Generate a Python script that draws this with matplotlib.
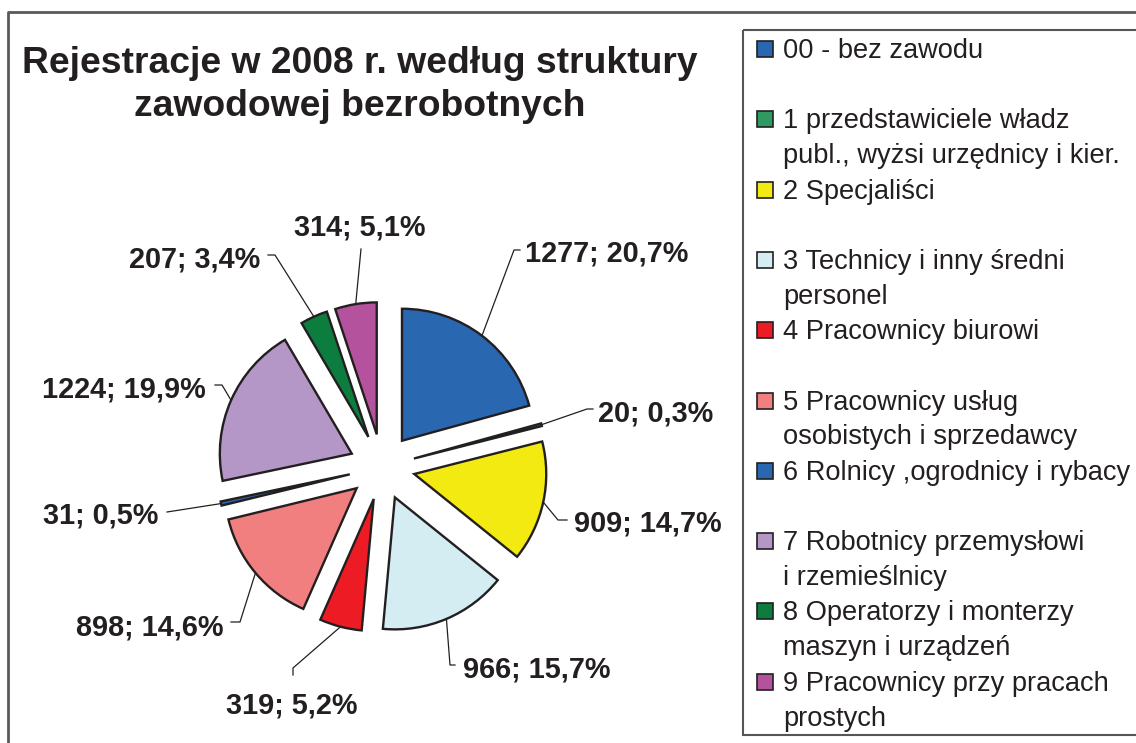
import math
import matplotlib
matplotlib.use('Agg')
import matplotlib.pyplot as plt
from matplotlib.patches import Rectangle

plt.rcParams['font.family'] = ['Liberation Sans', 'DejaVu Sans']

title_lines = ['Rejestracje w 2008 r. według struktury', 'zawodowej bezrobotnych']
categories = [
    '00 - bez zawodu',
    '1 przedstawiciele władz\npubl., wyżsi urzędnicy i kier.',
    '2 Specjaliści',
    '3 Technicy i inny średni\npersonel',
    '4 Pracownicy biurowi',
    '5 Pracownicy usług\nosobistych i sprzedawcy',
    '6 Rolnicy ,ogrodnicy i rybacy',
    '7 Robotnicy przemysłowi\ni rzemieślnicy',
    '8 Operatorzy i monterzy\nmaszyn i urządzeń',
    '9 Pracownicy przy pracach\nprostych',
]
counts = [1277, 20, 909, 966, 319, 898, 31, 1224, 207, 314]
colors = ['#2a67b1', '#2e9a62', '#f2ea10', '#d4edf3', '#ed1c24',
          '#f17f7f', '#2a67b1', '#b497c6', '#0c7d3e', '#b5529e']

# label placement in pixels (y down): text x, text centre y, align, leader bend points
label_layout = [
    (525, 252, 'left', [(514, 250), (520, 250)]),
    (598, 412, 'left', [(587, 409), (593, 409)]),
    (574, 522, 'left', [(558, 520), (567, 520)]),
    (463, 668, 'left', [(450, 665), (455, 665)]),
    (292, 703, 'center', [(293, 668), (293, 675)]),
    (223, 625, 'right', [(240, 622), (231, 622)]),
    (158, 513, 'right', [(167, 512)]),
    (206, 388, 'right', [(222, 385), (215, 385)]),
    (260, 258, 'right', [(275, 255), (268, 255)]),
    (360, 225, 'center', [(361, 249)]),
]

W, H = 1136, 743
fig = plt.figure(figsize=(W / 100, H / 100), dpi=100)
ax = fig.add_axes([0, 0, 1, 1])

dark = '#231f20'
wedges, _ = ax.pie(counts, colors=colors, startangle=-90, counterclock=True,
                   radius=132, center=(382, 467), explode=[33] * len(counts),
                   wedgeprops=dict(edgecolor=dark, linewidth=1.7), frame=True)
ax.set_xlim(0, W)
ax.set_ylim(H, 0)
ax.axis('off')

# data labels with leader lines
total = sum(counts)
lab_size = 20.8
for w, v, (tx, ty, ha, bends) in zip(wedges, counts, label_layout):
    mid = math.radians((w.theta1 + w.theta2) / 2)
    ax0 = w.center[0] + w.r * math.cos(mid)
    ay0 = w.center[1] + w.r * math.sin(mid)
    xs = [ax0] + [p[0] for p in bends]
    ys = [ay0] + [p[1] for p in bends]
    ax.plot(xs, ys, color=dark, lw=0.9)
    txt = f'{v}; {100 * v / total:.1f}%'.replace('.', ',')
    ax.text(tx, ty + 10, txt, ha=ha, va='baseline', fontsize=lab_size,
            fontweight='bold', color=dark)

# title
for i, line in enumerate(title_lines):
    ax.text(360, 73 + 43 * i, line, ha='center', va='baseline', fontsize=26.8,
            fontweight='bold', color=dark)

# legend drawn by hand to follow the original spacing
ax.add_patch(Rectangle((743, 30), 500, 705, fill=False, edgecolor='#555555', lw=1.5))
for i, (name, c) in enumerate(zip(categories, colors)):
    y = 49 + 70.3 * i
    ax.add_patch(Rectangle((757, y - 8), 16, 16, facecolor=c, edgecolor=dark, lw=1.2))
    for k, line in enumerate(name.split('\n')):
        ax.text(783, y + 35 * k + 9, line, ha='left', va='baseline',
                fontsize=19.6, color=dark)

# outer chart border
ax.plot([8, 8, W + 5], [H + 5, 12, 12], color='#595959', lw=2)

fig.savefig('out.png', dpi=100)
